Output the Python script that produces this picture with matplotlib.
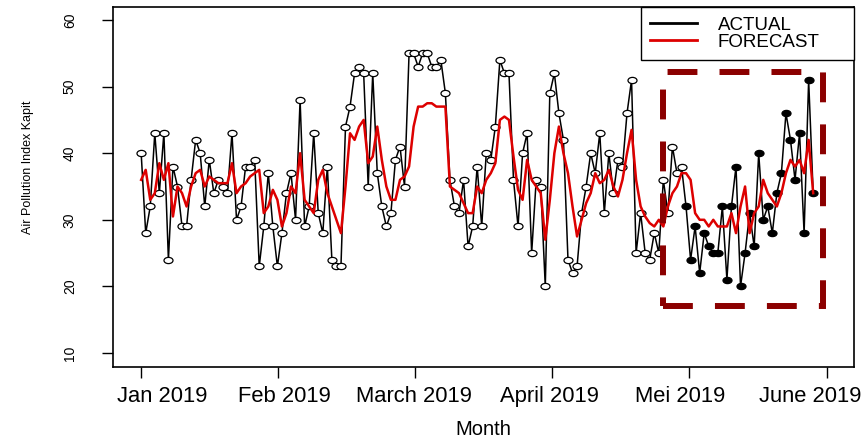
import numpy as np
import matplotlib.pyplot as plt
from matplotlib.path import Path
from matplotlib.patches import Rectangle

plt.rcParams['font.family'] = ['Liberation Sans', 'DejaVu Sans']

# daily air pollution index, Jan 2019 - end of May 2019
actual = [40, 28, 32, 43, 34, 43, 24, 38, 35, 29,
          29, 36, 42, 40, 32, 39, 34, 36, 35, 34,
          43, 30, 32, 38, 38, 39, 23, 29, 37, 29,
          23, 28, 34, 37, 30, 48, 29, 32, 43, 31,
          28, 38, 24, 23, 23, 44, 47, 52, 53, 52,
          35, 52, 37, 32, 29, 31, 39, 41, 35, 55,
          55, 53, 55, 55, 53, 53, 54, 49, 36, 32,
          31, 36, 26, 29, 38, 29, 40, 39, 44, 54,
          52, 52, 36, 29, 40, 43, 25, 36, 35, 20,
          49, 52, 46, 42, 24, 22, 23, 31, 35, 40,
          37, 43, 31, 40, 34, 39, 38, 46, 51, 25,
          31, 25, 24, 28, 25, 36, 31, 41, 37, 38,
          32, 24, 29, 22, 28, 26, 25, 25, 32, 21,
          32, 38, 20, 25, 31, 26, 40, 30, 32, 28,
          34, 37, 46, 42, 36, 43, 28, 51, 34]

forecast = [36, 37.5, 33, 34, 38.5, 36, 38.5, 30.5, 35, 34,
            32, 35, 37, 37.5, 35, 36.5, 36, 35.5, 35.5, 35.5,
            38.5, 34, 35, 35.5, 36.5, 37, 37.5, 31, 32, 34.5,
            33, 29, 31, 35, 34, 40, 33, 32, 31, 36,
            37.5, 34, 32, 30, 28, 35, 43, 42, 44, 45,
            38.5, 39.5, 44, 39, 35, 33, 33, 36, 36.5, 38,
            44, 47, 47, 47.5, 47.5, 47, 47, 47, 35, 34.5,
            34, 32.5, 31, 31, 35, 34, 36, 37, 38.5, 45,
            45.5, 45, 39.5, 34.5, 33, 39, 36, 35, 34, 27,
            33, 40, 44, 40, 37, 32, 27.5, 30, 32.5, 34,
            37, 35.5, 36, 37.5, 35, 33.5, 36, 40, 43.5, 36,
            32, 30.5, 29.5, 29, 30, 29, 32, 34, 35, 37,
            37, 36, 31, 30, 30, 29, 30, 29, 29, 29,
            31, 28, 32, 35, 28, 31, 32, 36, 34, 33,
            32, 34, 37, 39, 38, 39, 37, 42, 34]

month_labels = ['Jan 2019', 'Feb 2019', 'March 2019', 'April 2019', 'Mei 2019', 'June 2019']
month_ticks = [0, 30.2, 60.4, 90.5, 120.7, 151]
# the labels in the original are not centred on their ticks
label_pos = [4.6, 31.5, 60, 89.9, 118.8, 147.4]
y_ticks = [10, 20, 30, 40, 50, 60]
first_filled = 120   # points in the test period are drawn solid

days = np.arange(len(actual))
actual = np.array(actual)

# slightly flattened circle like in the original R plot
circ = Path.unit_circle()
ell = Path(circ.vertices * [1.45, 1.0], circ.codes)

fig = plt.figure(figsize=(8.66, 4.4), dpi=100)
ax = fig.add_axes([0.1305, 0.166, 0.8557, 0.818])

ax.plot(days, actual, color='black', lw=1.1, zorder=2, label='ACTUAL')
ax.plot(days[:first_filled], actual[:first_filled], ls='none', marker=ell, ms=6.5,
        mfc='white', mec='black', mew=0.9, zorder=3)
ax.plot(days[first_filled:], actual[first_filled:], ls='none', marker=ell, ms=6.5,
        mfc='black', mec='black', mew=0.9, zorder=3)
ax.plot(days, forecast, color='#dd0000', lw=1.8, zorder=4, label='FORECAST')

# highlight box around the forecast period
ax.add_patch(Rectangle((114.9, 17.0), 35.2, 35.2, fill=False, ec='#8b0000',
                       lw=4.3, ls=(0, (5, 3.7)), zorder=5))

ax.set_xlim(-6.2, 157)
ax.set_ylim(7.9, 61.95)
ax.set_xticks(month_ticks)
ax.set_xticklabels([])
ax.set_xticks(label_pos, minor=True)
ax.set_xticklabels(month_labels, minor=True, fontsize=15.8)
ax.tick_params(axis='x', which='minor', length=0, pad=14)
ax.set_yticks(y_ticks)
ax.set_yticklabels(y_ticks, rotation=90, va='center', fontsize=10)
ax.tick_params(axis='both', which='major', length=8, width=1, direction='out')
ax.tick_params(axis='y', pad=18)
for s in ax.spines.values():
    s.set_linewidth(1.2)

ax.set_ylabel('Air Pollution Index Kapit', fontsize=9)
ax.yaxis.set_label_coords(-0.107, 0.555)
ax.set_xlabel('Month', fontsize=14.5)
ax.xaxis.set_label_coords(0.5, -0.147)

leg = ax.legend(loc='upper left', bbox_to_anchor=(0.7126, 0.847, 0.2874, 0.153),
                mode='expand', borderaxespad=0, fancybox=False, edgecolor='black',
                framealpha=1, fontsize=13.5, handlelength=2.5, handletextpad=1.1,
                labelspacing=0.0, borderpad=0.5)
leg.get_frame().set_linewidth(1.0)
for ln in leg.get_lines():
    ln.set_linewidth(2)

plt.savefig('out.png', dpi=100)
